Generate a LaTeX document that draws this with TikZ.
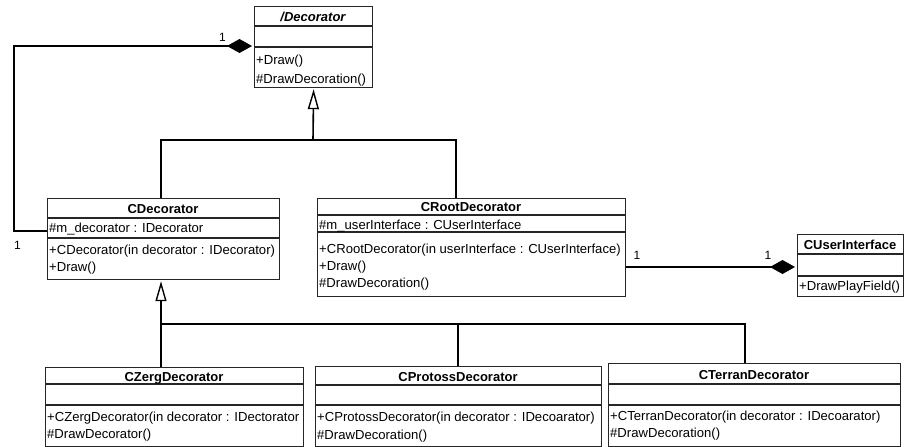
\documentclass[tikz,border=0pt]{standalone}
\usepackage{fontspec}
\setmainfont{Liberation Sans}
\usetikzlibrary{arrows.meta}
\begin{document}
\begin{tikzpicture}[x=1pt,y=1pt,
  cls/.style={draw=black!85, line width=1.2pt, anchor=north west, inner sep=0pt},
  sep/.style={draw=black!85, line width=1.2pt},
  ttl/.style={anchor=base, inner sep=0pt, font=\bfseries\fontsize{13}{15}\selectfont},
  op/.style={anchor=base west, inner sep=0pt, font=\fontsize{13.1}{15}\selectfont},
  mult/.style={inner sep=0pt, font=\fontsize{12}{14}\selectfont},
  conn/.style={draw=black, line width=1.6pt},
  gen/.style={conn, -{Triangle[open, length=20pt, width=11pt, line width=1.4pt]}, shorten >=1pt},
  comp/.style={conn, -{Diamond[length=25pt, width=14pt]}, shorten >=2pt}]
\useasboundingbox (0,0) rectangle (905,-447);
\fill[white] (0,0) rectangle (905,-447);

% Decorator
\node[cls, minimum width=118pt, minimum height=81pt] (dec) at (254,-6) {};
\draw[sep] (254,-26) -- (372,-26);
\draw[sep] (254,-47) -- (372,-47);
\node[ttl] (dect) at (313,-21.3) {\itshape /Decorator};
\node[op] (deco1) at (256,-64.6) {+Draw()};
\node[op] (deco2) at (256,-83.4) {\#DrawDecoration()};

% CDecorator
\node[cls, minimum width=232pt, minimum height=81pt] (cdec) at (47,-198) {};
\draw[sep] (47,-218) -- (279,-218);
\draw[sep] (47,-238) -- (279,-238);
\node[ttl] (cdect) at (163,-213) {CDecorator};
\node[op] (cdeca) at (49,-232.3) {\#m\_decorator : IDecorator};
\node[op] (cdeco1) at (49,-254) {+CDecorator(in decorator : IDecorator)};
\node[op] (cdeco2) at (49,-271.3) {+Draw()};

% CRootDecorator
\node[cls, minimum width=308pt, minimum height=98pt] (crt) at (317,-198) {};
\draw[sep] (317,-215) -- (625,-215);
\draw[sep] (317,-232) -- (625,-232);
\node[ttl] (crtt) at (471,-211.3) {CRootDecorator};
\node[op] (crta) at (319,-229) {\#m\_userInterface : CUserInterface};
\node[op] (crto1) at (319,-253.7) {+CRootDecorator(in userInterface : CUserInterface)};
\node[op] (crto2) at (319,-270.7) {+Draw()};
\node[op] (crto3) at (319,-287.3) {\#DrawDecoration()};

% CUserInterface
\node[cls, minimum width=106pt, minimum height=62pt] (ui) at (797,-234) {};
\draw[sep] (797,-254) -- (903,-254);
\draw[sep] (797,-276) -- (903,-276);
\node[ttl] (uit) at (850,-249.6) {CUserInterface};
\node[op] (uio1) at (799,-290.6) {+DrawPlayField()};

% CZergDecorator
\node[cls, minimum width=258pt, minimum height=79pt] (zerg) at (45,-367) {};
\draw[sep] (45,-384) -- (303,-384);
\draw[sep] (45,-405) -- (303,-405);
\node[ttl] (zergt) at (174,-381.3) {CZergDecorator};
\node[op] (zergo1) at (47,-421.3) {+CZergDecorator(in decorator : IDectorator};
\node[op] (zergo2) at (47,-438.6) {\#DrawDecorator()};

% CProtossDecorator
\node[cls, minimum width=286pt, minimum height=80pt] (prot) at (315,-366) {};
\draw[sep] (315,-385) -- (601,-385);
\draw[sep] (315,-405) -- (601,-405);
\node[ttl] (prott) at (458,-381.3) {CProtossDecorator};
\node[op] (proto1) at (317,-421.3) {+CProtossDecorator(in decorator : IDecoarator)};
\node[op] (proto2) at (317,-439.3) {\#DrawDecoration()};

% CTerranDecorator
\node[cls, minimum width=292pt, minimum height=83pt] (terr) at (608,-363) {};
\draw[sep] (608,-384) -- (900,-384);
\draw[sep] (608,-405) -- (900,-405);
\node[ttl] (terrt) at (754,-379.6) {CTerranDecorator};
\node[op] (terro1) at (610,-420.6) {+CTerranDecorator(in decorator : IDecoarator)};
\node[op] (terro2) at (610,-437.9) {\#DrawDecoration()};

% junction coordinates
\coordinate (j1) at (313,-140);
\coordinate (j2) at (161,-324);
\coordinate (corner) at (14,-46);

% generalizations to Decorator
\draw[conn] (cdec.north -| 161,0) |- (j1);
\draw[conn] (crt.north -| 456,0) |- (j1);
\draw[gen] (j1) -- (dec.south);

% generalizations to CDecorator
\draw[conn] (zerg.north -| 161,0) -- (j2);
\draw[conn] (prot.north -| 458,0) |- (j2);
\draw[conn] (terr.north -| 745,0) |- (j2);
\draw[gen] (j2) -- (cdec.south -| 161,0);

% composition CDecorator -> Decorator
\draw[comp] (cdec.west |- 0,-231) -| (corner) -- (dec.west |- 0,-46);
\node[mult] (m1) at (222.5,-37.5) {1};
\node[mult] (m2) at (17.5,-245) {1};

% composition CRootDecorator -> CUserInterface
\draw[comp] (crt.east |- 0,-267) -- (ui.west |- 0,-267);
\node[mult] (m3) at (637,-255.5) {1};
\node[mult] (m4) at (768,-255.5) {1};
\end{tikzpicture}
\end{document}
